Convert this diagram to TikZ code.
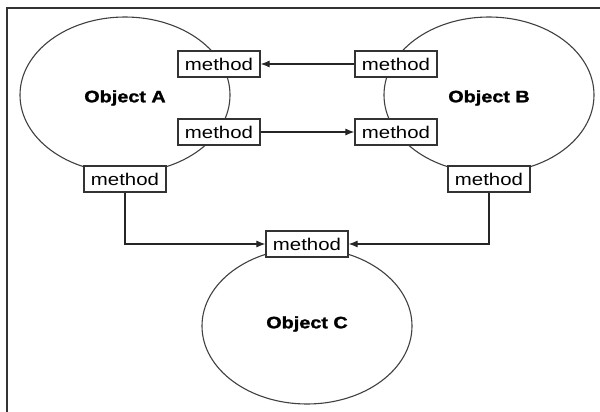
\documentclass[tikz,border=0pt]{standalone}
\usepackage{fontspec}
\newfontfamily\msf[FakeStretch=1.2]{Liberation Sans}
\newfontfamily\obf[FakeStretch=1.2,FakeBold=1.5]{Liberation Sans Bold}
\usetikzlibrary{shapes.geometric,arrows.meta}
\begin{document}
\begin{tikzpicture}[x=1pt,y=-1pt,
  obj/.style={draw=black!75,line width=1.1pt,ellipse,minimum width=210pt,minimum height=156pt,inner sep=0pt,font=\obf\fontsize{16.5}{16.5}\selectfont},
  meth/.style={draw=black!80,line width=1.2pt,fill=white,rectangle,minimum width=82pt,minimum height=26pt,inner sep=0pt,font=\msf\fontsize{17}{17}\selectfont},
  conn/.style={draw=black!85,line width=1.1pt},
  arr/.style={conn,-{Latex[length=9pt,width=7pt]}}]
\useasboundingbox (0,0) rectangle (600,412);
\fill[white] (0,0) rectangle (600,412);
\draw[line width=1.4pt,black!80] (7,412) -- (7,8) -- (600,8);
\node[obj] (objA) at (125,95) {};
\node[obj] (objB) at (489,95) {};
\node[obj] (objC) at (307,326) {};
\node[font=\obf\fontsize{16.5}{16.5}\selectfont] (labA) at (125,98) {Object A};
\node[font=\obf\fontsize{16.5}{16.5}\selectfont] (labB) at (489,98) {Object B};
\node[font=\obf\fontsize{16.5}{16.5}\selectfont] (labC) at (307,324) {Object C};
\node[meth] (a1) at (219,64) {method};
\node[meth] (a2) at (219,132) {method};
\node[meth] (a3) at (125,179) {method};
\node[meth] (b1) at (396,64) {method};
\node[meth] (b2) at (396,132) {method};
\node[meth] (b3) at (489,179) {method};
\node[meth] (c1) at (307,244) {method};
\draw[arr] (b1.west) -- (a1.east);
\draw[arr] (a2.east) -- (b2.west);
\draw[arr] (a3.south) |- (c1.west);
\draw[arr] (b3.south) |- (c1.east);
\end{tikzpicture}
\end{document}
